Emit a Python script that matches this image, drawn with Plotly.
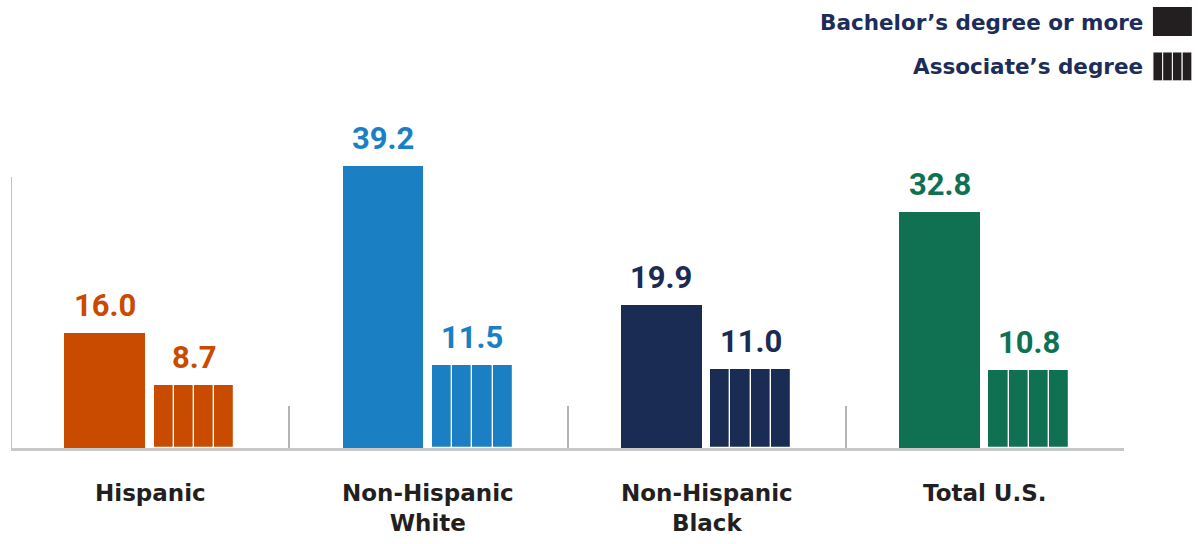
import plotly.graph_objects as go

# Educational attainment by group (percent of adults)
groups = ["Hispanic", "Non-Hispanic<br>White", "Non-Hispanic<br>Black", "Total U.S."]
bachelors = [16.0, 39.2, 19.9, 32.8]
associates = [8.7, 11.5, 11.0, 10.8]
colors = ["#c84b00", "#1b7fc4", "#1a2b54", "#0f7152"]

series_names = ["Bachelor\u2019s degree or more", "Associate\u2019s degree"]

VALUE_FONT = "Roboto"
LABEL_FONT = "DejaVu Sans"
TEXT_DARK = "#231f20"
LEGEND_TEXT = "#1c2d5a"

BAR_W = 0.29
OFF_B = -0.163
OFF_A = 0.158
N_STRIPES = 4
SUB_W = BAR_W / N_STRIPES

fig = go.Figure()

# solid bars: bachelor's degree or more
fig.add_trace(go.Bar(
    x=[i + OFF_B for i in range(len(groups))],
    y=bachelors,
    width=BAR_W,
    marker=dict(color=colors, line=dict(width=0)),
    showlegend=False,
    hoverinfo="skip",
))

# striped bars: associate's degree, built from four adjacent slices
for k in range(N_STRIPES):
    fig.add_trace(go.Bar(
        x=[i + OFF_A + (k - (N_STRIPES - 1) / 2) * SUB_W for i in range(len(groups))],
        y=associates,
        width=SUB_W,
        marker=dict(color=colors, line=dict(width=1.2, color="white")),
        showlegend=False,
        hoverinfo="skip",
    ))

annotations = []
# value labels
for i, (b, a, c) in enumerate(zip(bachelors, associates, colors)):
    for xpos, v in ((i + OFF_B, b), (i + OFF_A, a)):
        annotations.append(dict(
            x=xpos, y=v, xref="x", yref="y", text=f"<b>{v:.1f}</b>",
            showarrow=False, yanchor="bottom", yshift=7,
            font=dict(family=VALUE_FONT, size=31, color=c),
        ))

# category labels
for i, g in enumerate(groups):
    annotations.append(dict(
        x=i, y=-0.085, xref="x", yref="paper", text=f"<b>{g}</b>",
        showarrow=False, yanchor="top", align="center",
        font=dict(family=LABEL_FONT, size=23, color=TEXT_DARK),
    ))

# legend texts
legend_y = [1.224, 1.095]
for name, ly in zip(series_names, legend_y):
    annotations.append(dict(
        x=1.019, y=ly, xref="paper", yref="paper", text=f"<b>{name}</b>",
        showarrow=False, xanchor="right", yanchor="middle",
        font=dict(family=LABEL_FONT, size=21.5, color=LEGEND_TEXT),
    ))

shapes = []
# legend swatches
SW_X0, SW_X1 = 1.026, 1.061
shapes.append(dict(type="rect", xref="paper", yref="paper",
                   x0=SW_X0, x1=SW_X1, y0=1.184, y1=1.267,
                   fillcolor=TEXT_DARK, line=dict(width=0)))
step = (SW_X1 - SW_X0) / N_STRIPES
for k in range(N_STRIPES):
    shapes.append(dict(type="rect", xref="paper", yref="paper",
                       x0=SW_X0 + k * step, x1=SW_X0 + (k + 1) * step,
                       y0=1.055, y1=1.138,
                       fillcolor=TEXT_DARK, line=dict(width=1, color="white")))

# left vertical rule
shapes.append(dict(type="line", xref="x", yref="y", x0=-0.5, x1=-0.5, y0=0, y1=37.6,
                   line=dict(color="#9a9a9a", width=1.2)))

fig.update_layout(
    width=1198, height=544,
    margin=dict(l=11, r=74, t=100, b=96),
    paper_bgcolor="white", plot_bgcolor="white",
    barmode="overlay", bargap=0,
    showlegend=False,
    annotations=annotations,
    shapes=shapes,
    xaxis=dict(
        range=[-0.5, 3.5],
        tickvals=[0.5, 1.5, 2.5],
        ticks="inside", ticklen=42, tickwidth=2, tickcolor="#b4b4b4",
        showticklabels=False,
        showgrid=False, zeroline=False,
        showline=True, linecolor="#c8c8c8", linewidth=3,
    ),
    yaxis=dict(
        range=[0, 48.3],
        visible=False, showgrid=False, zeroline=False,
    ),
)

fig.write_html("out.html")
